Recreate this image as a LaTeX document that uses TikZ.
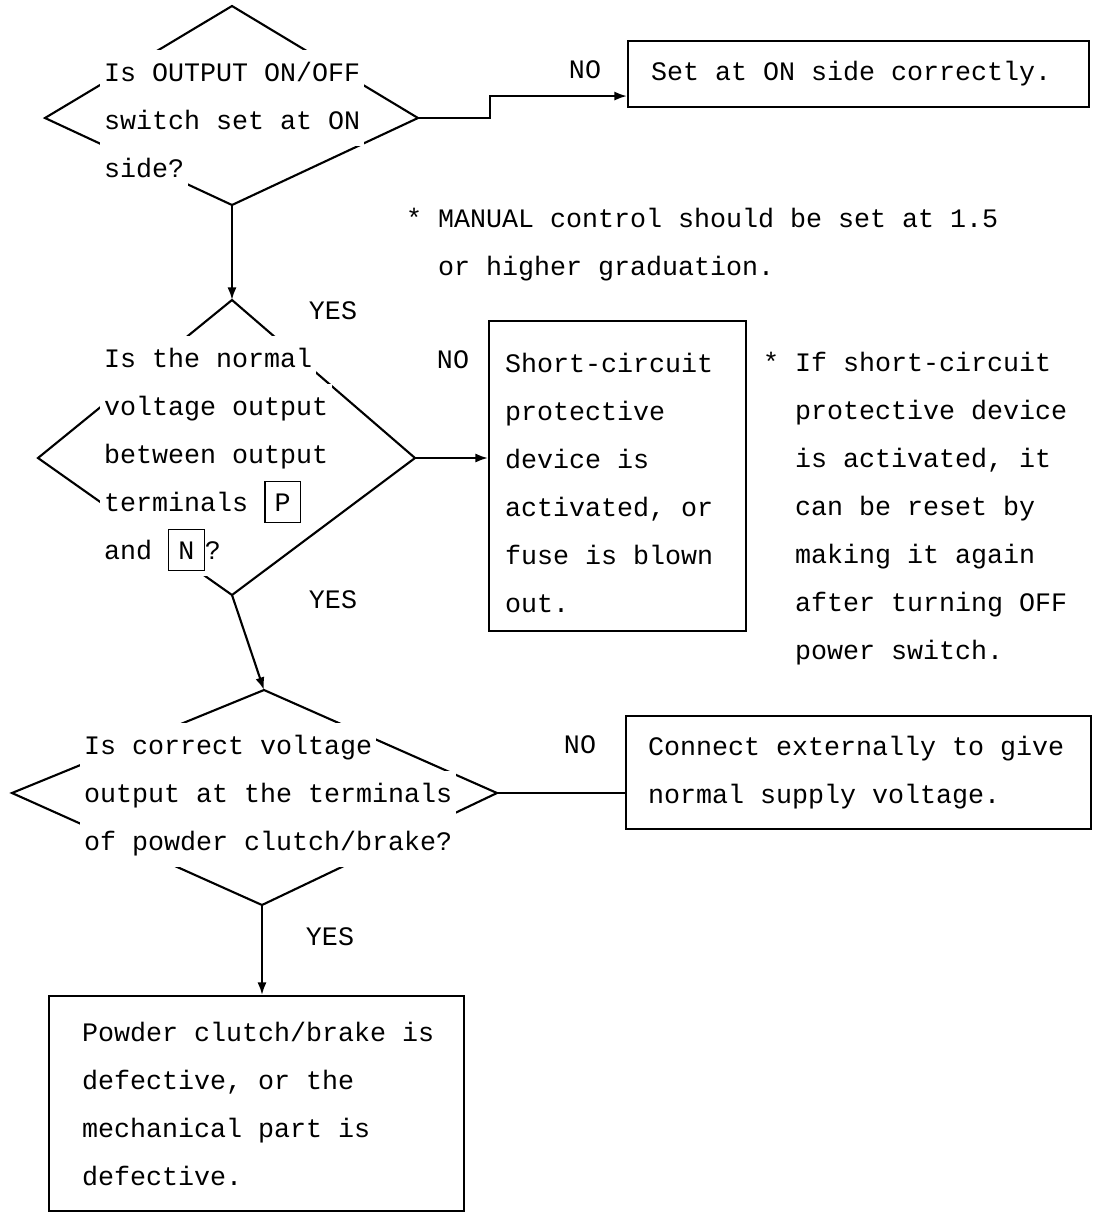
\documentclass[tikz,border=0pt]{standalone}
\usepackage{fontspec}
\setmonofont{Liberation Mono}
\usetikzlibrary{arrows.meta}

\newlength{\pxu}
\setlength{\pxu}{0.025cm}
\setlength{\lineskiplimit}{-4pt}
% ligne de texte sur fond blanc (coupe les losanges)
\newcommand{\qs}{\rule[-16\pxu]{0pt}{48\pxu}}
\newcommand{\wl}[1]{{\setlength{\fboxsep}{0pt}\colorbox{white}{\kern4\pxu\qs#1\kern4\pxu}}}
% borne encadree
\newcommand{\term}[1]{{\setlength{\fboxsep}{0pt}\setlength{\fboxrule}{1pt}\fbox{\kern9\pxu\rule[-10\pxu]{0pt}{40\pxu}#1\kern9\pxu}}}

\begin{document}
\begin{tikzpicture}[x=0.025cm, y=-0.025cm, line width=1.5pt,
  >={Latex[length=9pt, width=6.5pt]},
  txt/.style={font=\ttfamily\fontsize{18.97pt}{34.15pt}\selectfont, inner sep=0pt},
  quest/.style={txt, anchor=north west, align=left},
  answer/.style={txt, draw, anchor=north west, align=left, inner ysep=0pt},
  lbl/.style={txt}]
  \useasboundingbox (0,0) rectangle (1093,1212);

  % Losanges
  \coordinate (q1-t) at (232,6);   \coordinate (q1-r) at (418,118);
  \coordinate (q1-b) at (232,205); \coordinate (q1-l) at (45,118);
  \draw (q1-t) -- (q1-r) -- (q1-b) -- (q1-l) -- cycle;
  \coordinate (q2-t) at (232,300); \coordinate (q2-r) at (415,458);
  \coordinate (q2-b) at (232,595); \coordinate (q2-l) at (38,458);
  \draw (q2-t) -- (q2-r) -- (q2-b) -- (q2-l) -- cycle;
  \coordinate (q3-t) at (264,690); \coordinate (q3-r) at (497,793);
  \coordinate (q3-b) at (262,905); \coordinate (q3-l) at (12,793);
  \draw (q3-t) -- (q3-r) -- (q3-b) -- (q3-l) -- cycle;

  % Questions
  \node[quest] (q1txt) at (99,48.8) {\wl{Is OUTPUT ON/OFF}\\\wl{switch set at ON}\\\wl{side?}};
  \node[quest] (q2txt) at (99,334.8) {\wl{Is the normal}\\\wl{voltage output}\\\wl{between output}\\\wl{terminals \term{P}}\\\wl{and \term{N}?}};
  \node[quest] (q3txt) at (79,721.8) {\wl{Is correct voltage}\\\wl{output at the terminals}\\\wl{of powder clutch/brake?}};

  % Cadres
  \node[answer, inner xsep=23\pxu, minimum height=66\pxu] (set) at (627,40)
    {\makebox[415\pxu][l]{Set at ON side correctly.}};
  \node[answer, inner xsep=16\pxu, minimum height=310\pxu] (short) at (488,320)
    {\makebox[225\pxu][l]{\strut Short-circuit}\\protective\\device is\\activated, or\\fuse is blown\\out.};
  \node[answer, inner xsep=22\pxu, minimum height=113\pxu] (conn) at (625,715)
    {\makebox[421\pxu][l]{Connect externally to give}\\normal supply voltage.};
  \node[answer, inner xsep=33\pxu, minimum height=215\pxu] (powder) at (48,995)
    {\makebox[349\pxu][l]{Powder clutch/brake is}\\defective, or the\\mechanical part is\\defective.};

  % Remarques
  \node[txt, anchor=north west, align=left] (rem1) at (405,194.8) {\qs* MANUAL control should be set at 1.5\\\hphantom{* }or higher graduation.};
  \node[txt, anchor=north west, align=left] (rem2) at (762,338.8) {\qs* If short-circuit\\\hphantom{* }protective device\\\hphantom{* }is activated, it\\\hphantom{* }can be reset by\\\hphantom{* }making it again\\\hphantom{* }after turning OFF\\\hphantom{* }power switch.};

  % Etiquettes
  \node[lbl] (no1) at (585,70) {NO};
  \node[lbl] (no2) at (453,360) {NO};
  \node[lbl] (no3) at (580,745) {NO};
  \node[lbl] (yes1) at (333,311) {YES};
  \node[lbl] (yes2) at (333,600) {YES};
  \node[lbl] (yes3) at (330,937) {YES};

  % Fleches
  \draw[->] (q1-r) -- ++(72,0) |- ([yshift=-22\pxu]set.west);
  \draw[->] (q1-b) -- (q2-t);
  \draw[->] (q2-r) -- (q2-r -| short.west);
  \draw[->] (q2-b) -- (q3-t);
  \draw (q3-r) -- (q3-r -| conn.west);
  \draw[->] (q3-b) -- (q3-b |- powder.north);
\end{tikzpicture}
\end{document}
